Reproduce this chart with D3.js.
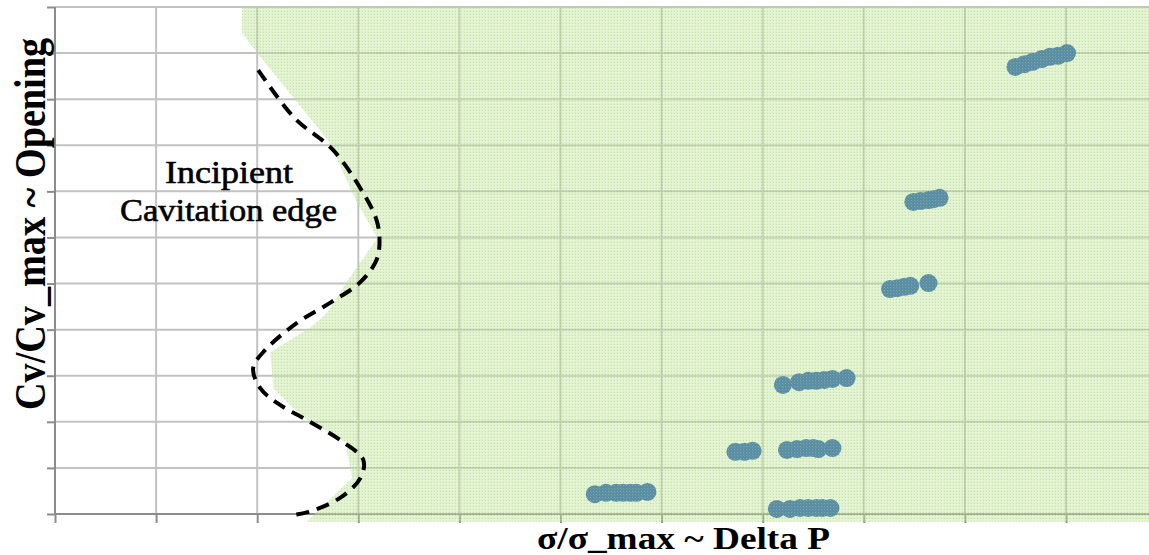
<!DOCTYPE html>
<html>
<head>
<meta charset="utf-8">
<script src="https://cdn.jsdelivr.net/npm/d3@7"></script>
<style>
  html, body { margin: 0; padding: 0; background: #fff; }
  svg { display: block; }
</style>
</head>
<body>
<svg id="chart" width="1149" height="555"></svg>
<script>
// Grid positions (fractions of the maximum), no numeric labels are shown
const xTickValues = [0, 0.1, 0.2, 0.3, 0.4, 0.5, 0.6, 0.7, 0.8, 0.9, 1.0, 1.1];
const yTickValues = [0, 0.1, 0.2, 0.3, 0.4, 0.5, 0.6, 0.7, 0.8, 0.9, 1.0, 1.1];

// Operating points: sigma/sigma_max and Cv/Cv_max
const pointSigma = [
  0.950, 0.959, 0.967, 0.976, 0.984, 0.992, 1.001,
  0.849, 0.856, 0.864, 0.869, 0.875,
  0.826, 0.833, 0.840, 0.846, 0.864,
  0.720, 0.736, 0.745, 0.753, 0.761, 0.769, 0.783,
  0.673, 0.682, 0.690,
  0.724, 0.734, 0.743, 0.750, 0.755, 0.769,
  0.534, 0.545, 0.555, 0.562, 0.569, 0.575, 0.586,
  0.714, 0.727, 0.737, 0.745, 0.753, 0.759, 0.767
];
const pointCv = [
  0.970, 0.976, 0.981, 0.987, 0.992, 0.994, 1.000,
  0.677, 0.679, 0.681, 0.683, 0.686,
  0.488, 0.490, 0.493, 0.495, 0.501,
  0.280, 0.286, 0.289, 0.289, 0.291, 0.293, 0.295,
  0.135, 0.135, 0.137,
  0.139, 0.141, 0.143, 0.143, 0.141, 0.143,
  0.043, 0.046, 0.046, 0.046, 0.046, 0.046, 0.048,
  0.011, 0.011, 0.013, 0.013, 0.013, 0.013, 0.013
];

// Cavitation-free zone boundary (left edge of the shaded region)
const zoneSigma = [0.185, 0.185, 0.200, 0.270, 0.299, 0.319, 0.290, 0.269, 0.252, 0.213, 0.216, 0.245, 0.287, 0.294, 0.249, 1.15, 1.15];
const zoneCv    = [1.100, 1.044, 1.000, 0.811, 0.675, 0.599, 0.508, 0.436, 0.404, 0.351, 0.273, 0.210, 0.156, 0.078, -0.017, -0.017, 1.100];

// Incipient cavitation edge (dashed curve)
const edgeSigma = [0.201, 0.237, 0.275, 0.305, 0.318, 0.321, 0.318, 0.302, 0.272, 0.239, 0.208, 0.196, 0.203, 0.223, 0.249, 0.285, 0.305, 0.302, 0.282, 0.250, 0.235];
const edgeCv    = [0.963, 0.859, 0.790, 0.696, 0.638, 0.594, 0.551, 0.503, 0.458, 0.414, 0.356, 0.317, 0.273, 0.236, 0.204, 0.156, 0.117, 0.078, 0.035, 0.004, -0.002];

const xTitle = "σ/σ_max ~ Delta P";
const yTitle = "Cv/Cv_max ~ Opening";
const noteLines = ["Incipient", "Cavitation edge"];

const svg = d3.select("#chart");
const x = d3.scaleLinear().domain([0, 1]).range([55, 1066]);
const y = d3.scaleLinear().domain([0, 1.1]).range([514, 7]);
const plotRight = 1149;

// Shading patterns
const defs = svg.append("defs");
const pat = defs.append("pattern")
  .attr("id", "zoneFill")
  .attr("patternUnits", "userSpaceOnUse")
  .attr("width", 3).attr("height", 3);
pat.append("rect").attr("width", 3).attr("height", 3).attr("fill", "#acdc7c").attr("fill-opacity", 0.40);
pat.append("rect").attr("x", 0).attr("y", 0).attr("width", 3).attr("height", 1).attr("fill", "#ffffff").attr("fill-opacity", 0.15);
pat.append("rect").attr("x", 0).attr("y", 0).attr("width", 1).attr("height", 3).attr("fill", "#ffffff").attr("fill-opacity", 0.15);
pat.append("rect").attr("x", 2).attr("y", 2).attr("width", 1).attr("height", 1).attr("fill", "#92c864").attr("fill-opacity", 0.35);

const dotTex = defs.append("pattern")
  .attr("id", "dotTex")
  .attr("patternUnits", "userSpaceOnUse")
  .attr("width", 3).attr("height", 3);
dotTex.append("rect").attr("width", 3).attr("height", 3).attr("fill", "#5a8da8");
dotTex.append("rect").attr("x", 2).attr("y", 2).attr("width", 1).attr("height", 1).attr("fill", "#86b08a").attr("fill-opacity", 0.8);
dotTex.append("rect").attr("x", 0).attr("y", 0).attr("width", 1).attr("height", 1).attr("fill", "#6f9ea0").attr("fill-opacity", 0.6);

// Gridlines
const grid = svg.append("g");
grid.selectAll("line.v")
  .data(xTickValues.filter(d => d > 0))
  .join("line")
  .attr("x1", d => x(d)).attr("x2", d => x(d))
  .attr("y1", y(1.1)).attr("y2", y(0))
  .attr("stroke", "#c2c2c2").attr("stroke-width", 2);
grid.selectAll("line.h")
  .data(yTickValues.filter(d => d > 0))
  .join("line")
  .attr("x1", x(0)).attr("x2", plotRight)
  .attr("y1", d => y(d)).attr("y2", d => y(d))
  .attr("stroke", "#c2c2c2").attr("stroke-width", 2);

// Axes with plain tick marks
const yAxis = svg.append("g")
  .attr("transform", `translate(${x(0)},0)`)
  .call(d3.axisLeft(y).tickValues(yTickValues).tickSize(8).tickFormat(""));
const xAxis = svg.append("g")
  .attr("transform", `translate(0,${y(0)})`)
  .call(d3.axisBottom(x).tickValues(xTickValues).tickSize(9).tickFormat(""));
[yAxis, xAxis].forEach(g => {
  g.select(".domain").attr("stroke", "#8c8c8c").attr("stroke-width", 2);
  g.selectAll(".tick line").attr("stroke", "#8c8c8c").attr("stroke-width", 2);
});
xAxis.select(".domain").attr("d", `M${x(0)},0H${plotRight}`);
yAxis.select(".domain").attr("d", `M0,${y(1.1)}V${y(0)}`);

// Shaded zone drawn over the grid
const zone = zoneSigma.map((s, i) => [x(s), y(zoneCv[i])]);
svg.append("path")
  .attr("d", d3.line()(zone) + "Z")
  .attr("fill", "url(#zoneFill)");

// Operating points, textured like the zone behind them
svg.append("g").selectAll("circle")
  .data(pointSigma.map((s, i) => ({ s, c: pointCv[i] })))
  .join("circle")
  .attr("cx", d => x(d.s))
  .attr("cy", d => y(d.c))
  .attr("r", 9)
  .attr("fill", "url(#dotTex)");

// Incipient cavitation edge
const edge = edgeSigma.map((s, i) => [x(s), y(edgeCv[i])]);
svg.append("path")
  .attr("d", d3.line().curve(d3.curveCatmullRom.alpha(0.5))(edge))
  .attr("fill", "none")
  .attr("stroke", "#000")
  .attr("stroke-width", 4)
  .attr("stroke-dasharray", "13,8");

// Annotation
const note = svg.append("g")
  .attr("font-family", "'Liberation Serif', 'Times New Roman', serif")
  .attr("font-size", 32)
  .attr("fill", "#000")
  .attr("stroke", "#000")
  .attr("stroke-width", 0.6);
note.append("text").attr("x", 165).attr("y", 183)
  .attr("textLength", 128).attr("lengthAdjust", "spacingAndGlyphs")
  .text(noteLines[0]);
note.append("text").attr("x", 120).attr("y", 221)
  .attr("textLength", 217).attr("lengthAdjust", "spacingAndGlyphs")
  .text(noteLines[1]);

// Axis titles
svg.append("text")
  .attr("x", 537).attr("y", 549)
  .attr("font-family", "'Liberation Serif', 'Times New Roman', serif")
  .attr("font-weight", "bold")
  .attr("font-size", 31)
  .attr("textLength", 293).attr("lengthAdjust", "spacingAndGlyphs")
  .attr("fill", "#000")
  .text(xTitle);

svg.append("text")
  .attr("transform", "translate(45,410) rotate(-90) scale(1,1.12)")
  .attr("x", 0).attr("y", 0)
  .attr("font-family", "'Liberation Serif', 'Times New Roman', serif")
  .attr("font-weight", "bold")
  .attr("font-size", 39)
  .attr("textLength", 372).attr("lengthAdjust", "spacingAndGlyphs")
  .attr("fill", "#000")
  .text(yTitle);
</script>
</body>
</html>
